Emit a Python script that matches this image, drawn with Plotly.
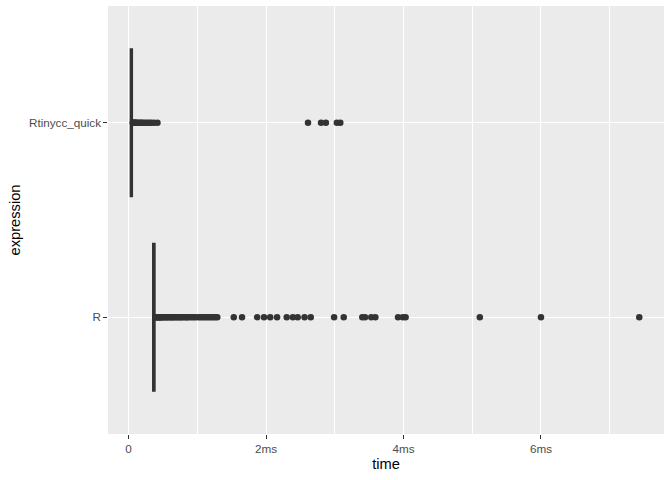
import plotly.graph_objects as go

# Categories (bottom to top)
categories = ["R", "Rtinycc_quick"]

# Box statistics (ms)
q1_vals = [0.362, 0.037]
median_vals = [0.366, 0.040]
q3_vals = [0.372, 0.043]
lower_vals = [0.356, 0.033]
upper_vals = [0.386, 0.052]

# Outliers (ms)
r_outliers = [0.39, 0.40, 0.41, 0.42, 0.43, 0.44, 0.45, 0.46, 0.47, 0.48, 0.50, 0.51,
              0.53, 0.55, 0.56, 0.58, 0.60, 0.62, 0.63, 0.65, 0.67, 0.69, 0.71, 0.73,
              0.75, 0.77, 0.79, 0.82, 0.84, 0.86, 0.89, 0.92, 0.95, 0.98, 1.02, 1.05,
              1.08, 1.11, 1.14, 1.17, 1.20, 1.23, 1.26, 1.29,
              1.53, 1.65, 1.87, 1.97, 2.06, 2.16, 2.30, 2.39, 2.46, 2.56, 2.65,
              2.99, 3.13, 3.40, 3.44, 3.53, 3.59, 3.92, 3.99, 4.03, 5.11, 6.00, 7.43]
rq_outliers = [0.06, 0.07, 0.08, 0.09, 0.10, 0.11, 0.13, 0.15, 0.17, 0.19, 0.21,
               0.24, 0.27, 0.30, 0.33, 0.37, 0.42,
               2.61, 2.80, 2.87, 3.03, 3.08]

x_tickvals = [0, 2, 4, 6]
x_ticktext = ["0", "2ms", "4ms", "6ms"]
x_minor = [1, 3, 5, 7]

fig = go.Figure()

fig.add_trace(go.Box(
    y=categories, q1=q1_vals, median=median_vals, q3=q3_vals,
    lowerfence=lower_vals, upperfence=upper_vals,
    orientation="h", width=0.75, whiskerwidth=0,
    line=dict(color="#333333", width=3), fillcolor="white",
    boxpoints=False, showlegend=False, hoverinfo="skip",
))

fig.add_trace(go.Scatter(
    x=r_outliers, y=["R"] * len(r_outliers), mode="markers",
    marker=dict(color="#333333", size=6.5, line=dict(width=0)), showlegend=False,
))
fig.add_trace(go.Scatter(
    x=rq_outliers, y=["Rtinycc_quick"] * len(rq_outliers), mode="markers",
    marker=dict(color="#333333", size=6.5, line=dict(width=0)), showlegend=False,
))

fig.update_layout(
    width=672, height=480,
    margin=dict(l=108, r=8, t=6, b=46),
    paper_bgcolor="white", plot_bgcolor="#ebebeb",
    font=dict(family="Liberation Sans, Arial, sans-serif", color="#4d4d4d", size=11.7),
    xaxis=dict(
        range=[-0.30, 7.79], tickvals=x_tickvals, ticktext=x_ticktext,
        showgrid=True, gridcolor="white", gridwidth=1.1, zeroline=False,
        ticks="outside", ticklen=3.6, tickcolor="#333333", tickwidth=1,
        minor=dict(tickvals=x_minor, showgrid=True, gridcolor="white", gridwidth=0.55, ticks=""),
        title=dict(text="time", font=dict(size=14.7, color="black"), standoff=5),
        showline=False, automargin=True,
    ),
    yaxis=dict(
        type="category", categoryorder="array", categoryarray=categories,
        range=[-0.6, 1.6], showgrid=True, gridcolor="white", gridwidth=1.1,
        zeroline=False, ticks="outside", ticklen=3.6, tickcolor="#333333", tickwidth=1,
        title=dict(text="expression", font=dict(size=14.7, color="black"), standoff=4),
        showline=False, automargin=True,
    ),
)

fig.write_html("out.html", config={"displayModeBar": False},
               post_script="document.body.style.margin='0';")
